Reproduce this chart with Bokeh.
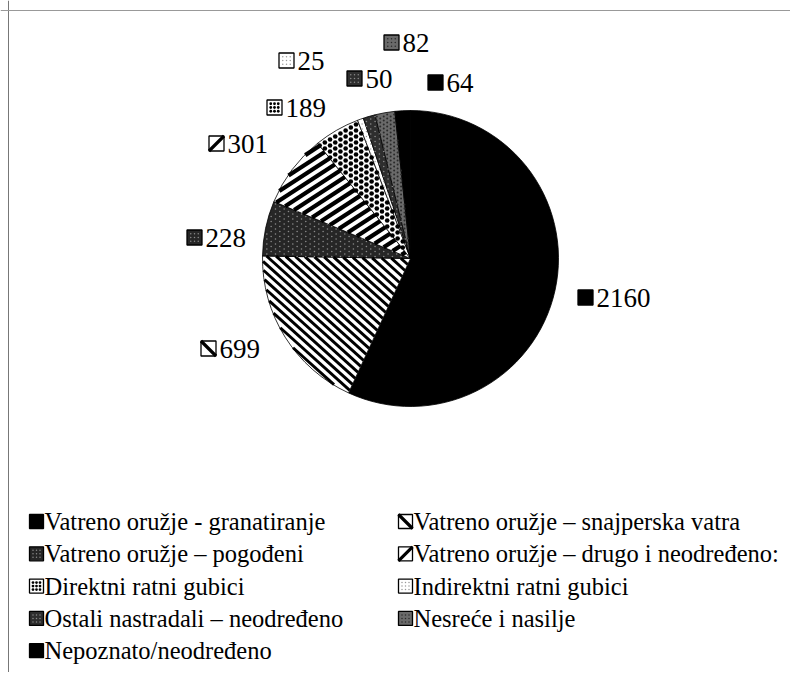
import math
from bokeh.plotting import figure
from bokeh.models import Range1d, ColumnDataSource, Span
from bokeh.core.properties import value
from bokeh.embed import file_html
from bokeh.resources import INLINE

# ---- data ----
categories = [
    "Vatreno oružje - granatiranje",
    "Vatreno oružje – snajperska vatra",
    "Vatreno oružje – pogođeni",
    "Vatreno oružje – drugo i neodređeno:",
    "Direktni ratni gubici",
    "Indirektni ratni gubici",
    "Ostali nastradali – neodređeno",
    "Nesreće i nasilje",
    "Nepoznato/neodređeno",
]
values = [2160, 699, 228, 301, 189, 25, 50, 82, 64]
value_labels = [str(v) for v in values]

# ---- styles ----
fills = ["black", "white", "#262626", "white", "white", "white", "#2e2e2e", "#6a6a6a", "black"]
patterns = [None, "bs", "dots", "fs", "dots", "dots", "dots", "dots", None]
stripe_angle = {"bs": -42.0, "fs": 33.0}   # degrees
stripe_period = {"bs": 6.3, "fs": 8.0}
stripe_width = {"bs": 2.9, "fs": 4.2}
dot_colors = [None, None, "#8a8a8a", None, "black", "#9a9a9a", "#8a8a8a", "#2a2a2a", None]
dot_sizes = [0, 0, 1.6, 0, 4.6, 1.4, 1.6, 2.0, 0]
dot_steps = [0, 0, 5, 0, 6, 5, 5, 4, 0]

W, H = 790, 672
FONT = value("Liberation Serif")


def fx(px):
    return px


def fy(py):
    return H - py


p = figure(width=W, height=H, output_backend="svg", toolbar_location=None,
           x_range=Range1d(0, W), y_range=Range1d(0, H), min_border=0)
p.axis.visible = False
p.grid.visible = False
p.outline_line_color = None
p.background_fill_color = "white"

p.add_layout(Span(location=fx(8), dimension="height", line_color="#777777", line_width=1))
p.add_layout(Span(location=fy(10), dimension="width", line_color="#999999", line_width=1))

cx, cy, r = fx(410), fy(258), 148
total = sum(values)
starts, ends = [], []
acc = 0.0
for v in values:
    a0 = acc / total * 2 * math.pi
    acc += v
    a1 = acc / total * 2 * math.pi
    starts.append(math.pi / 2 - a0)
    ends.append(math.pi / 2 - a1)

src = ColumnDataSource(dict(start=starts, end=ends, fill=fills))
p.wedge(x=cx, y=cy, radius=r, start_angle="start", end_angle="end", direction="clock",
        source=src, fill_color="fill", line_color="black", line_width=0.8)


def cross(ax, ay, bx, by):
    return ax * by - ay * bx


def clip_line_sector(p0, d, c, rad, alpha, beta):
    ox, oy = p0[0] - c[0], p0[1] - c[1]
    a = d[0] ** 2 + d[1] ** 2
    b = 2 * (ox * d[0] + oy * d[1])
    cc = ox ** 2 + oy ** 2 - rad ** 2
    disc = b * b - 4 * a * cc
    if disc <= 0:
        return None
    sq = math.sqrt(disc)
    t0, t1 = (-b - sq) / (2 * a), (-b + sq) / (2 * a)
    ua = (math.cos(alpha), math.sin(alpha))
    ub = (math.cos(beta), math.sin(beta))
    for f0, f1 in ((cross(ua[0], ua[1], ox, oy), cross(ua[0], ua[1], d[0], d[1])),
                   (cross(ox, oy, ub[0], ub[1]), cross(d[0], d[1], ub[0], ub[1]))):
        if abs(f1) < 1e-12:
            if f0 < 0:
                return None
            continue
        t = -f0 / f1
        if f1 > 0:
            t0 = max(t0, t)
        else:
            t1 = min(t1, t)
    if t1 <= t0:
        return None
    return (p0[0] + t0 * d[0], p0[1] + t0 * d[1], p0[0] + t1 * d[0], p0[1] + t1 * d[1])


def in_sector(x, y, c, rad, alpha, beta):
    dx, dy = x - c[0], y - c[1]
    if dx * dx + dy * dy > (rad - 1.5) ** 2:
        return False
    ang = math.atan2(dy, dx)
    rel = (ang - alpha) % (2 * math.pi)
    return rel <= (beta - alpha) % (2 * math.pi)


dx_, dy_, dc, ds = [], [], [], []
for i, pat in enumerate(patterns):
    alpha, beta = ends[i], starts[i]
    if pat in ("bs", "fs"):
        th = math.radians(stripe_angle[pat])
        d = (math.cos(th), math.sin(th))
        n = (-math.sin(th), math.cos(th))
        per = stripe_period[pat]
        sx0, sy0, sx1, sy1 = [], [], [], []
        k = -int(r / per) - 1
        while k * per <= r + per:
            p0 = (cx + n[0] * k * per, cy + n[1] * k * per)
            seg = clip_line_sector(p0, d, (cx, cy), r - 0.5, alpha, beta)
            if seg:
                sx0.append(seg[0]); sy0.append(seg[1]); sx1.append(seg[2]); sy1.append(seg[3])
            k += 1
        p.segment(x0=sx0, y0=sy0, x1=sx1, y1=sy1, line_color="black",
                  line_width=stripe_width[pat], line_cap="butt")
    elif pat == "dots":
        st = dot_steps[i]
        gx = cx - r
        row = 0
        while gx <= cx + r:
            gy = cy - r + (st / 2 if row % 2 else 0)
            while gy <= cy + r:
                if in_sector(gx, gy, (cx, cy), r, alpha, beta):
                    dx_.append(gx); dy_.append(gy); dc.append(dot_colors[i]); ds.append(dot_sizes[i])
                gy += st
            gx += st * 0.866
            row += 1

p.scatter(x=dx_, y=dy_, size=ds, fill_color=dc, line_color=None, marker="circle")


def draw_icons(xs, ys, size):
    h = size / 2
    p.rect(x=xs, y=ys, width=size, height=size, fill_color=fills, line_color="black", line_width=1.3)
    ix0, iy0, ix1, iy1 = [], [], [], []
    ddx, ddy, ddc, dds = [], [], [], []
    for i, pat in enumerate(patterns):
        x, y = xs[i], ys[i]
        if pat == "bs":
            ix0.append(x - h); iy0.append(y + h); ix1.append(x + h); iy1.append(y - h)
        elif pat == "fs":
            ix0.append(x - h); iy0.append(y - h); ix1.append(x + h); iy1.append(y + h)
        elif pat == "dots":
            st = max(3.0, size / 4)
            for a in range(-1, 2):
                for b in range(-1, 2):
                    ddx.append(x + a * st); ddy.append(y + b * st)
                    ddc.append(dot_colors[i]); dds.append(max(1.5, dot_sizes[i] * 0.6))
    p.segment(x0=ix0, y0=iy0, x1=ix1, y1=iy1, line_color="black", line_width=3.2)
    p.scatter(x=ddx, y=ddy, size=dds, fill_color=ddc, line_color=None, marker="circle")


# label anchor offsets from pie centre (layout only)
label_dx = [186, -191, -205, -183, -125, -113, -45, -8, 36]
label_dy = [-39, -90, 21, 115, 151, 198, 180, 216, 176]
lx = [cx + d for d in label_dx]
ly = [cy + d for d in label_dy]
draw_icons([x - 11 for x in lx], ly, 15)
p.text(x=lx, y=ly, text=value_labels, text_font=FONT, text_font_size="27px",
       text_baseline="middle", text_align="left", text_color="black")

col_x = [fx(44), fx(413)]
row_y0, row_step = 521, 32.3
gxs = [col_x[i % 2] for i in range(len(categories))]
gys = [fy(row_y0 + row_step * (i // 2)) for i in range(len(categories))]
draw_icons([x - 8 for x in gxs], gys, 14)
p.text(x=gxs, y=gys, text=categories, text_font=FONT, text_font_size="24.5px",
       text_baseline="middle", text_align="left", text_color="black")

open("out.html", "w").write(file_html(p, INLINE))
